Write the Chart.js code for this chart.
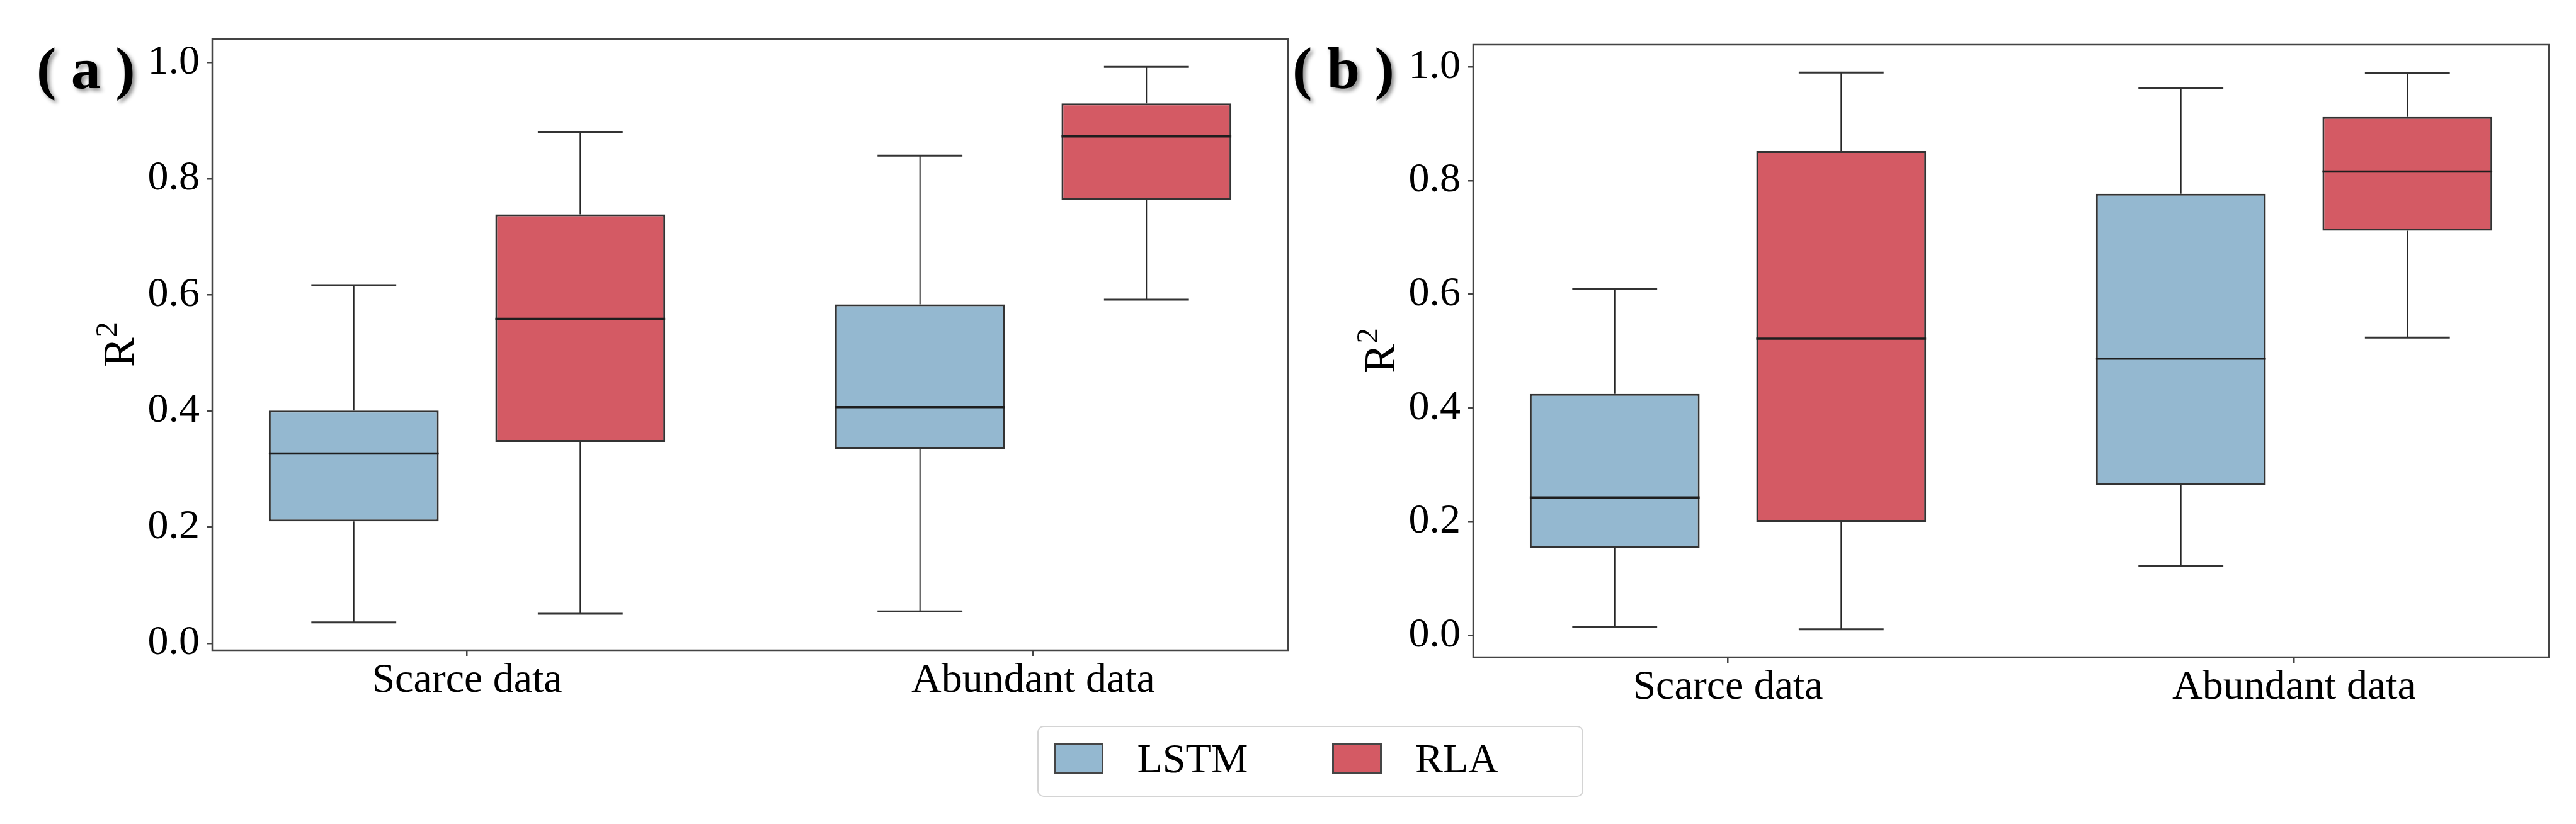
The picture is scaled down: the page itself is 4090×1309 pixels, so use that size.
<!DOCTYPE html>
<html>
<head>
<meta charset="utf-8">
<script src="https://cdn.jsdelivr.net/npm/chart.js@4.4.1/dist/chart.umd.min.js"></script>
<style>
  body { margin: 0; width: 4090px; height: 1309px; background: #fff; overflow: hidden; position: relative; font-family: "Liberation Serif", "Times New Roman", serif; }
  canvas { position: absolute; top: 0; }
  #chartA { left: 0; }
  #chartB { left: 2080px; }
  .panel-label { position: absolute; top: 61px; font-size: 94px; font-weight: bold; line-height: 1; white-space: pre; text-shadow: 4px 4px 6px rgba(0,0,0,0.45); }
  #legend { position: absolute; left: 1647px; top: 1153px; width: 867px; height: 113px; box-sizing: border-box; border: 2px solid #d4d4d4; border-radius: 10px; display: flex; align-items: center; padding: 0 0 10px 24px; font-size: 66px; background: #fff; }
  .swatch { width: 135px; height: 48px; box-sizing: border-box; border: 3px solid #454545; margin-right: 53px; }
  .entry-text { margin-right: 133px; }
</style>
</head>
<body>
<canvas id="chartA" width="2060" height="1160"></canvas>
<canvas id="chartB" width="2010" height="1160"></canvas>
<div class="panel-label" style="left:58px">( a )</div>
<div class="panel-label" style="left:2052px">( b )</div>
<div id="legend"></div>
<script>
// categories and series
const categories = ["Scarce data", "Abundant data"];
const seriesNames = ["LSTM", "RLA"];
const seriesColors = ["#94b8d0", "#d45a64"];
const yTickValues = [0, 0.2, 0.4, 0.6, 0.8, 1.0];

// box summaries per category: [whisker low, Q1, median, Q3, whisker high]
const lstmA = [
  [0.036, 0.210, 0.327, 0.401, 0.617],
  [0.055, 0.335, 0.407, 0.584, 0.840],
];
const rlaA = [
  [0.051, 0.347, 0.559, 0.739, 0.881],
  [0.592, 0.764, 0.873, 0.930, 0.993],
];
const lstmB = [
  [0.015, 0.154, 0.243, 0.425, 0.610],
  [0.123, 0.265, 0.487, 0.777, 0.962],
];
const rlaB = [
  [0.011, 0.200, 0.522, 0.852, 0.990],
  [0.524, 0.712, 0.816, 0.912, 0.989],
];

const FONT = "'Liberation Serif', 'Times New Roman', serif";
Chart.defaults.font.family = FONT;
Chart.defaults.color = "#000";

// whiskers, caps and medians drawn on top of the floating bars
const boxWhiskers = {
  id: "boxWhiskers",
  afterDatasetsDraw(chart) {
    const ctx = chart.ctx;
    const y = chart.scales.y;
    chart.data.datasets.forEach((ds, di) => {
      const meta = chart.getDatasetMeta(di);
      meta.data.forEach((bar, i) => {
        const [lo, q1, med, q3, hi] = ds.summary[i];
        const x = bar.x;
        const w = bar.width;
        ctx.save();
        ctx.strokeStyle = "#262626";
        ctx.lineWidth = 2;
        ctx.beginPath();
        ctx.moveTo(x, y.getPixelForValue(q3));
        ctx.lineTo(x, y.getPixelForValue(hi));
        ctx.moveTo(x, y.getPixelForValue(q1));
        ctx.lineTo(x, y.getPixelForValue(lo));
        ctx.stroke();
        ctx.strokeStyle = "#333";
        ctx.lineWidth = 3;
        ctx.beginPath();
        ctx.moveTo(x - w / 4, y.getPixelForValue(hi));
        ctx.lineTo(x + w / 4, y.getPixelForValue(hi));
        ctx.moveTo(x - w / 4, y.getPixelForValue(lo));
        ctx.lineTo(x + w / 4, y.getPixelForValue(lo));
        ctx.stroke();
        ctx.strokeStyle = "#1e1e1e";
        ctx.lineWidth = 3.5;
        ctx.beginPath();
        ctx.moveTo(x - w / 2, y.getPixelForValue(med));
        ctx.lineTo(x + w / 2, y.getPixelForValue(med));
        ctx.stroke();
        ctx.restore();
      });
    });
  },
  afterDraw(chart) {
    const { ctx, chartArea } = chart;
    ctx.save();
    ctx.strokeStyle = "#444";
    ctx.lineWidth = 2.5;
    ctx.strokeRect(chartArea.left, chartArea.top, chartArea.right - chartArea.left, chartArea.bottom - chartArea.top);

    // y axis label R with a raised 2, rotated like the axis title
    const bx = chartArea.left - 125;
    const cy = (chartArea.top + chartArea.bottom) / 2;
    ctx.translate(bx, cy);
    ctx.rotate(-Math.PI / 2);
    ctx.fillStyle = "#000";
    ctx.textBaseline = "alphabetic";
    ctx.textAlign = "left";
    ctx.font = "70px " + FONT;
    const wR = ctx.measureText("R").width;
    ctx.font = "49px " + FONT;
    const w2 = ctx.measureText("2").width;
    const start = -(wR + w2) / 2;
    ctx.font = "70px " + FONT;
    ctx.fillText("R", start, 0);
    ctx.font = "49px " + FONT;
    ctx.fillText("2", start + wR + 1, -27);
    ctx.restore();
  },
};

function yLimits(groups) {
  const all = groups.flat(2);
  const lo = Math.min(...all);
  const hi = Math.max(...all);
  const pad = (hi - lo) * 0.05;
  return [lo - pad, hi + pad];
}

function makePanel(canvasId, lstm, rla, layout) {
  const [ymin, ymax] = yLimits([lstm, rla]);
  const groups = [lstm, rla];
  return new Chart(document.getElementById(canvasId), {
    type: "bar",
    data: {
      datasets: seriesNames.map((name, s) => ({
        label: name,
        summary: groups[s],
        data: groups[s].map((b, i) => ({ x: i, y: [b[1], b[3]] })),
        backgroundColor: seriesColors[s],
        borderColor: "#333",
        borderWidth: 3,
        borderSkipped: false,
        categoryPercentage: 0.8,
        barPercentage: 0.75,
      })),
    },
    options: {
      responsive: false,
      animation: false,
      devicePixelRatio: 1,
      layout: { padding: { top: layout.top, right: layout.right, left: 0, bottom: 0 } },
      plugins: { legend: { display: false }, tooltip: { enabled: false } },
      scales: {
        x: {
          type: "linear",
          offset: false,
          min: -0.45,
          max: 1.45,
          afterFit: (axis) => { axis.height = layout.xHeight; },
          afterBuildTicks: (axis) => { axis.ticks = categories.map((c, i) => ({ value: i })); },
          ticks: {
            callback: (v) => categories[v],
            font: { size: 66 },
            padding: 0,
            maxRotation: 0,
          },
          grid: { display: true, offset: false, drawOnChartArea: false, drawTicks: true, tickLength: 9, color: "#444", lineWidth: 2.5 },
          border: { display: false },
        },
        y: {
          min: ymin,
          max: ymax,
          afterFit: (axis) => { axis.width = layout.yWidth; },
          afterBuildTicks: (axis) => { axis.ticks = yTickValues.map((v) => ({ value: v })); },
          ticks: {
            callback: (v) => v.toFixed(1),
            font: { size: 66 },
            padding: 12,
          },
          grid: { display: true, drawOnChartArea: false, drawTicks: true, tickLength: 8, color: "#444", lineWidth: 2.5 },
          border: { display: false },
        },
      },
    },
    plugins: [boxWhiskers],
  });
}

makePanel("chartA", lstmA, rlaA, { top: 62, right: 15, xHeight: 127, yWidth: 337 });
makePanel("chartB", lstmB, rlaB, { top: 71, right: 43, xHeight: 116, yWidth: 259 });

// legend built from the series
const legend = document.getElementById("legend");
seriesNames.forEach((name, s) => {
  const sw = document.createElement("div");
  sw.className = "swatch";
  sw.style.background = seriesColors[s];
  const tx = document.createElement("span");
  tx.className = "entry-text";
  tx.textContent = name;
  legend.appendChild(sw);
  legend.appendChild(tx);
});
</script>
</body>
</html>
